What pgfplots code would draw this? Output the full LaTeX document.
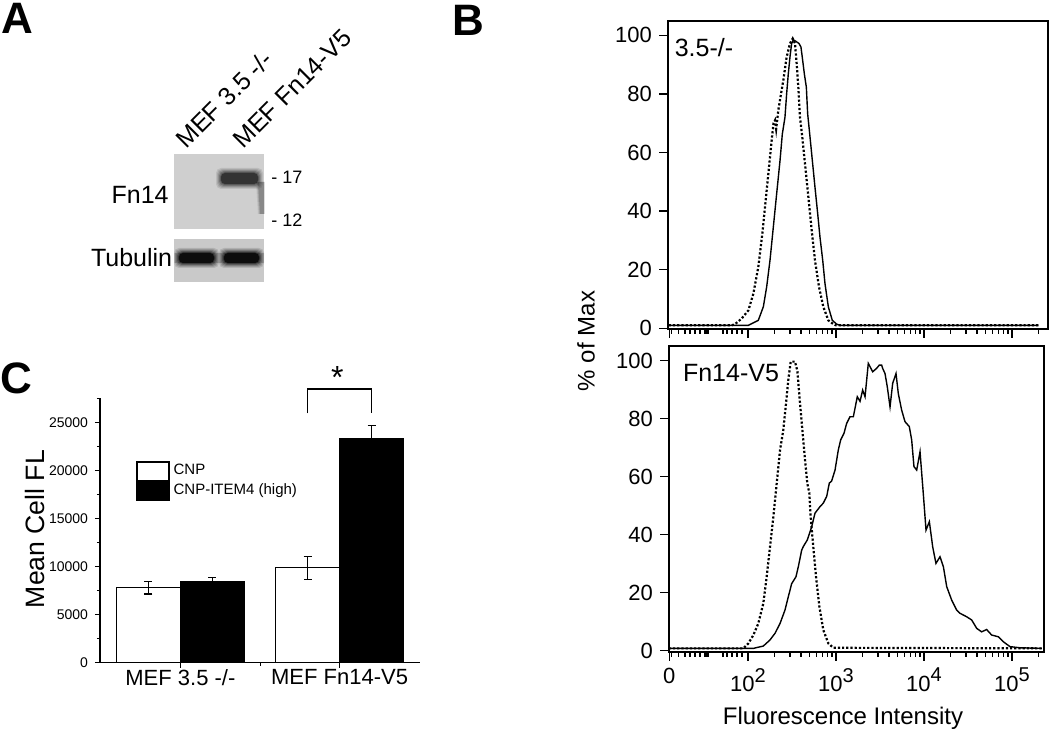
\documentclass[border=0pt]{standalone}
\usepackage{fontspec}
\setmainfont{Liberation Sans}
\usepackage{pgfplots}
\pgfplotsset{compat=1.18}
\newcommand{\supx}[1]{\raisebox{0.45em}{\fontsize{10}{10}\selectfont #1}}
\newcommand{\softband}[5]{%
  \foreach \d/\o in {5/0.12,4/0.15,3/0.2,2/0.3,1/0.4} {%
    \fill[#5, opacity=\o, rounded corners=2.5pt] (#1-\d,#2-\d) rectangle (#3+\d,#4+\d);}
  \fill[#5, rounded corners=2pt] (#1,#2) rectangle (#3,#4);}
\pgfplotsset{
  boxlegend/.style={legend image code/.code={\draw[##1] (0pt,-4.6pt) rectangle (16pt,4.6pt);}},
  flowax/.style={
    scale only axis,
    tick pos=left, tick align=outside,
    major tick length=4.5pt, minor tick length=2.5pt,
    axis line style={line width=0.8pt},
    every tick/.style={black, line width=0.6pt},
    ytick={0,20,40,60,80,100},
    xtick={1.105,2,3,4,5},
    minor xtick={1.133,1.208,1.284,1.341,1.398,1.455,1.511,1.534,1.545,1.716,1.761,1.818,1.875,1.932,
                 2.301,2.477,2.602,2.699,2.778,2.845,2.903,2.954,
                 3.301,3.477,3.602,3.699,3.778,3.845,3.903,3.954,
                 4.301,4.477,4.602,4.699,4.778,4.845,4.903,4.954,5.301},
    yticklabel style={font=\fontsize{11}{11}\selectfont},
    xticklabel style={font=\fontsize{11}{11}\selectfont},
    /pgf/number format/assume math mode=true,
  }
}
\begin{document}
\begin{tikzpicture}[x=0.5pt,y=0.5pt]
\path[use as bounding box] (0,0) rectangle (1050,732);

% panel letters
\node[anchor=north west, inner sep=0pt, font=\fontsize{22}{22}\selectfont\bfseries] at (1,729) {A};
\node[anchor=north west, inner sep=0pt, font=\fontsize{22}{22}\selectfont\bfseries] at (452,727) {B};
\node[anchor=north west, inner sep=0pt, font=\fontsize{22}{22}\selectfont\bfseries] at (0,370) {C};

% ---------------- Panel A: blot ----------------
\fill[black!19] (174.3,502.7) rectangle (264.3,577.7);
\begin{scope}
\clip (174.3,502.7) rectangle (264.3,577.7);
\softband{221}{548}{258}{559}{black!80}
\foreach \d/\o in {3/0.08,2/0.12,1/0.18} {\fill[black, opacity=\o] (261-\d,518) -- (264.3,518) -- (264.3,550) -- (259-\d,550) -- cycle;}
\end{scope}
\fill[black!21] (174.3,450.3) rectangle (264.3,493);
\begin{scope}
\clip (174.3,450.3) rectangle (264.3,493);
\fill[black!35] (174.3,469) rectangle (264.3,479);
\softband{179}{469}{214}{479}{black!95}
\softband{224}{469}{259}{479}{black!95}
\end{scope}

\node[anchor=east, inner sep=0pt, font=\fontsize{12.5}{12.5}\selectfont] at (169,537) {Fn14};
\node[anchor=east, inner sep=0pt, font=\fontsize{12.5}{12.5}\selectfont] at (172.5,474) {Tubulin};
\node[anchor=west, inner sep=0pt, font=\fontsize{9}{9}\selectfont] at (271,555) {- 17};
\node[anchor=west, inner sep=0pt, font=\fontsize{9}{9}\selectfont] at (271,512) {- 12};
\node[rotate=45, anchor=base west, inner sep=0pt, font=\fontsize{12.5}{12.5}\selectfont] at (186,582) {MEF 3.5 -/-};
\node[rotate=45, anchor=base west, inner sep=0pt, font=\fontsize{12.5}{12.5}\selectfont] at (243,582) {MEF Fn14-V5};

% ---------------- Panel B: top histogram ----------------
\begin{axis}[flowax,
  at={(334pt,201.5pt)}, anchor=south west,
  width=190pt, height=154pt,
  xmin=1.091, xmax=5.409, ymin=-0.25, ymax=104.9,
  xticklabels={},
]
\addplot[black, line width=0.7pt] coordinates {
(1.10,1.0) (2.004,1.0) (2.117,2.7) (2.174,7.3) (2.212,14.1) (2.25,23.2) (2.288,34.6)
(2.326,46) (2.364,57.3) (2.390,66.3) (2.420,72) (2.439,80) (2.458,86.9) (2.477,92.6)
(2.496,97.2) (2.515,98.5) (2.542,98) (2.580,97.2) (2.602,96) (2.621,91.5) (2.640,86.9)
(2.663,82.3) (2.678,73.2) (2.705,65.2) (2.731,57.3) (2.761,48.2) (2.792,39.1) (2.818,31.1)
(2.849,23.2) (2.875,15.2) (2.913,7.3) (2.958,2.7) (3.008,1.4) (3.045,1.0) (5.30,1.0)};
\addplot[black, line width=1.1pt, dash pattern=on 1.1pt off 1pt] coordinates {
(1.10,1.0) (1.814,1.0) (1.852,1.4) (1.928,3.3) (2.004,6.1) (2.061,11.8) (2.117,20.9)
(2.163,32.3) (2.201,43.7) (2.239,55.1) (2.269,64.2) (2.290,70) (2.307,71) (2.32,68)
(2.345,74.5) (2.375,80) (2.401,84.6) (2.439,92.6) (2.477,97.2) (2.508,98.9) (2.534,97.2)
(2.553,90.3) (2.572,82.3) (2.591,72) (2.617,65.2) (2.648,56.1) (2.686,44.8) (2.724,33.4)
(2.761,23.2) (2.807,14.1) (2.856,7.3) (2.913,2.7) (2.970,1.4) (3.0,1.0) (5.30,1.0)};
\end{axis}

% ---------------- Panel B: bottom histogram ----------------
\begin{axis}[flowax,
  at={(334.5pt,40pt)}, anchor=south west,
  width=187.5pt, height=153pt,
  xmin=1.102, xmax=5.364, ymin=-0.45, ymax=105.1,
  xticklabels={0,{10\supx{2}},{10\supx{3}},{10\supx{4}},{10\supx{5}}},
  xlabel={Fluorescence Intensity},
  every axis x label/.style={at={(axis description cs:0.464,-0.216)}, anchor=center, font=\fontsize{12}{12}\selectfont},
]
\addplot[black, line width=0.7pt] coordinates {
(1.10,0.8) (2.061,0.8) (2.174,1.6) (2.25,3.7) (2.307,6) (2.364,9.4) (2.420,14) (2.458,18.6)
(2.496,23.1) (2.545,25.5) (2.572,29) (2.610,34.7) (2.630,36) (2.674,38.2) (2.724,42.8)
(2.761,47.4) (2.818,49.7) (2.856,50.9) (2.894,53.2) (2.924,57.8) (2.95,58.5) (2.989,62.3)
(3.026,69.2) (3.053,72.7) (3.091,75) (3.121,78.4) (3.159,80.7) (3.197,80.7) (3.242,87.6)
(3.273,86) (3.303,89.9) (3.330,87.6) (3.367,99.1) (3.417,96.2) (3.462,97.4) (3.492,98.5)
(3.519,98.5) (3.530,97.4) (3.557,95.6) (3.583,91.0) (3.614,84.1) (3.644,92.2) (3.682,95.6)
(3.708,88.7) (3.746,83) (3.784,79) (3.833,77.3) (3.860,72.7) (3.886,63.5) (3.917,62.3)
(3.955,68.6) (3.992,54.2) (4.023,41.6) (4.061,44.5) (4.099,35.8) (4.136,30.1) (4.182,32.4)
(4.220,29) (4.258,22.1) (4.314,17.5) (4.371,14) (4.409,12.9) (4.485,11.7) (4.542,10.6)
(4.599,7.7) (4.655,6.5) (4.712,7.3) (4.769,5.4) (4.845,4.8) (4.901,3.1) (4.977,1.4)
(5.091,1.0) (5.34,0.8)};
\addplot[black, line width=1.1pt, dash pattern=on 1.1pt off 1pt] coordinates {
(1.10,0.8) (1.947,0.8) (2.004,2.5) (2.061,5.4) (2.117,9.4) (2.174,16.3) (2.212,25.5)
(2.25,35.8) (2.288,46.2) (2.326,57.7) (2.364,69.2) (2.401,76.1) (2.432,85.3) (2.458,93.4)
(2.485,99.7) (2.534,99.7) (2.561,96.5) (2.591,85.3) (2.621,75) (2.648,65.8) (2.674,57.7)
(2.697,54.3) (2.712,46.2) (2.742,35.8) (2.773,25.5) (2.811,15.2) (2.856,7.1) (2.913,2.5)
(2.970,1.0) (5.34,0.8)};
\end{axis}

\node[rotate=90, inner sep=0pt, font=\fontsize{12}{12}\selectfont] at (586,391) {\% of Max};
\node[inner sep=0pt, font=\fontsize{12.5}{12.5}\selectfont] at (704,684) {3.5-/-};
\node[inner sep=0pt, font=\fontsize{12.5}{12.5}\selectfont] at (731,359) {Fn14-V5};

% ---------------- Panel C: bar chart ----------------
\begin{axis}[
  at={(50pt,34.65pt)}, anchor=south west,
  scale only axis, width=160pt, height=132.35pt,
  xmin=-0.505, xmax=1.505, ymin=0, ymax=27570,
  axis x line=bottom, axis y line=left,
  axis line style={-, line width=0.6pt},
  every tick/.style={black, line width=0.5pt},
  xtick={0,1}, xticklabels={MEF 3.5 -/-, MEF Fn14-V5},
  minor xtick={0.5},
  ytick={0,5000,10000,15000,20000,25000},
  minor ytick={2500,7500,12500,17500,22500,27500},
  tick align=outside, major tick length=2.5pt, minor tick length=1.5pt,
  scaled y ticks=false,
  /pgf/number format/.cd, 1000 sep={}, assume math mode=true, /pgfplots/.cd,
  yticklabel style={font=\fontsize{7}{7}\selectfont},
  xticklabel style={font=\fontsize{11}{11}\selectfont, yshift=2.5pt},
  ylabel={Mean Cell FL},
  every axis y label/.style={at={(axis description cs:-0.203,0.505)}, rotate=90, anchor=center, font=\fontsize{13.3}{13.3}\selectfont},
  clip=false,
  legend style={draw=none, fill=none, at={(0.1125,0.762)}, anchor=north west,
    font=\fontsize{7.5}{7.5}\selectfont, inner sep=0pt, row sep=0pt, column sep=2pt,
    nodes={inner sep=0pt}},
  legend cell align=left,
]
\addplot[ybar, bar width=32pt, bar shift=0pt, fill=white, draw=black, line width=0.6pt,
  boxlegend,
  error bars/.cd, y dir=both, y explicit,
  error bar style={line width=0.6pt, black},
  error mark options={rotate=90, mark size=2pt, line width=0.6pt, black}]
  coordinates {(-0.201,7800) +- (0,650) (0.799,9900) +- (0,1200)};
\addplot[ybar, bar width=32pt, bar shift=0pt, fill=black, draw=black, line width=0.6pt,
  boxlegend,
  error bars/.cd, y dir=both, y explicit,
  error bar style={line width=0.6pt, black},
  error mark options={rotate=90, mark size=2pt, line width=0.6pt, black}]
  coordinates {(0.201,8400) +- (0,450) (1.201,23300) +- (0,1400)};
\legend{CNP, CNP-ITEM4 (high)}
\draw[line width=0.8pt] (axis cs:0.799,25980) -- (axis cs:0.799,28480) -- (axis cs:1.201,28480) -- (axis cs:1.201,25980);
\node[inner sep=0pt, font=\fontsize{16}{16}\selectfont] at (axis cs:0.986,29700) {*};
\end{axis}
\end{tikzpicture}
\end{document}
